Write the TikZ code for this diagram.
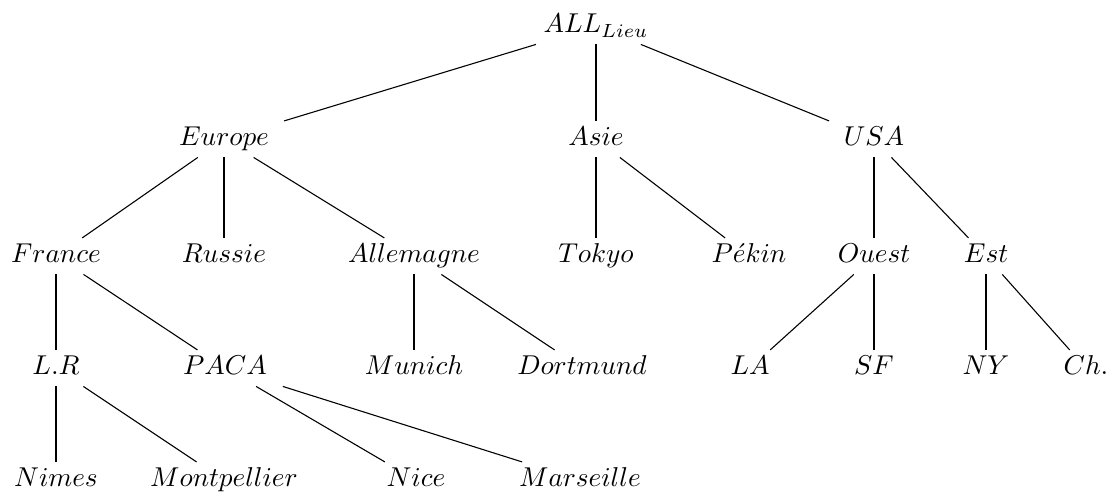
\documentclass[tikz,border=0pt]{standalone}
\begin{document}
\begin{tikzpicture}[x=0.367pt,y=-0.367pt,
  lbl/.style={anchor=base,inner xsep=0pt,inner ysep=2pt,text height=7pt,text depth=2pt,minimum width=60pt},
  edge/.style={line width=0.4pt}]
\useasboundingbox (0,0) rectangle (1109,492);
\node[lbl] (all) at (596,33) {$ALL_{Lieu}$};
\node[lbl] (eur) at (224,146) {$Europe$};
\node[lbl] (asi) at (596,146) {$Asie$};
\node[lbl] (usa) at (874,146) {$USA$};
\node[lbl] (fra) at (56,263) {$France$};
\node[lbl] (rus) at (224,263) {$Russie$};
\node[lbl] (all2) at (414,263) {$Allemagne$};
\node[lbl] (tok) at (596,263) {$Tokyo$};
\node[lbl] (pek) at (749,263) {$P\acute{e}kin$};
\node[lbl] (oue) at (874,263) {$Ouest$};
\node[lbl] (est) at (986,263) {$Est$};
\node[lbl] (lr) at (56,375) {$L.R$};
\node[lbl] (paca) at (225,375) {$PACA$};
\node[lbl] (mun) at (414,375) {$Munich$};
\node[lbl] (dor) at (582,375) {$Dortmund$};
\node[lbl] (la) at (750,375) {$LA$};
\node[lbl] (sf) at (874,375) {$SF$};
\node[lbl] (ny) at (986,375) {$NY$};
\node[lbl] (ch) at (1086,375) {$Ch.$};
\node[lbl] (nim) at (56,487) {$Nimes$};
\node[lbl] (mon) at (224,487) {$Montpellier$};
\node[lbl] (nic) at (416,487) {$Nice$};
\node[lbl] (mar) at (580,487) {$Marseille$};
\foreach \a/\b in {all/eur,all/asi,all/usa,eur/fra,eur/rus,eur/all2,asi/tok,asi/pek,usa/oue,usa/est,
  fra/lr,fra/paca,all2/mun,all2/dor,oue/la,oue/sf,est/ny,est/ch,lr/nim,lr/mon,paca/nic,paca/mar}
  \draw[edge] (\a) -- (\b);
\end{tikzpicture}
\end{document}
